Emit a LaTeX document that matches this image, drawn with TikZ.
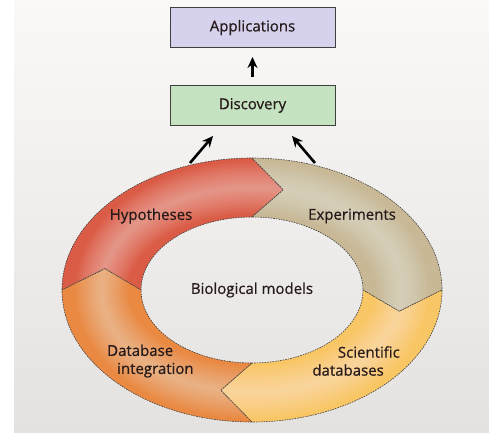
\documentclass[tikz,border=0pt]{standalone}
\usepackage{fontspec}
\setmainfont{Open Sans}
\usetikzlibrary{calc,positioning,arrows.meta}
\definecolor{bgtop}{RGB}{250,249,247}
\definecolor{bgbot}{RGB}{228,226,224}
\definecolor{appfill}{RGB}{214,209,237}
\definecolor{discfill}{RGB}{197,226,193}
\definecolor{hypred}{RGB}{218,92,70}
\definecolor{exptan}{RGB}{200,184,150}
\definecolor{scidbyellow}{RGB}{249,198,102}
\definecolor{dbintorange}{RGB}{233,137,66}
\definecolor{txtdark}{RGB}{38,26,26}
\tikzset{
    lbl/.style={font=\fontsize{15}{18}\selectfont\addfontfeature{FakeBold=0.6}, text=txtdark, inner sep=0pt},
    stagebox/.style={lbl, draw=black!75, line width=1pt, minimum width=165pt, minimum height=40pt},
    flow/.style={-{Stealth[length=11pt,width=10pt]}, line width=2.6pt},
    segline/.style={draw=black!75, line width=0.6pt, dash pattern=on 1.6pt off 1pt},
    ringpart/.style 2 args={
        insert path={
            ($(c)+(#1:190 and 132)$) arc[start angle=#1, end angle=#2, x radius=190, y radius=132]
            -- ($(c)+(#2-12:150.5 and 102.5)$) -- ($(c)+(#2:111 and 73)$)
            arc[start angle=#2, end angle=#1, x radius=111, y radius=73]
            -- ($(c)+(#1-12:150.5 and 102.5)$) -- cycle
        }
    }
}
% one arrow-shaped part of the ring: start angle, end angle, colour
\newcommand{\ringseg}[3]{
    \begin{scope}
        \clip[ringpart={#1}{#2}];
        \fill[#3] (c) ellipse [x radius=200, y radius=140];
        \foreach \w in {4,8,...,52}
            \draw[white, opacity=.035, line width=\w pt] (c) ellipse [x radius=150.5, y radius=102.5];
    \end{scope}
    \path[segline][ringpart={#1}{#2}];
}

\begin{document}
\begin{tikzpicture}[x=1pt, y=1pt]
    % background
    \fill[white] (0,0) rectangle (489,432);
    \shade[top color=bgtop, bottom color=bgbot] (14,0) rectangle (489,432);
    \useasboundingbox (0,0) rectangle (489,432);

    % the ring
    \coordinate (c) at (252,142);
    \ringseg{180}{90}{hypred}
    \ringseg{90}{0}{exptan}
    \ringseg{0}{-90}{scidbyellow}
    \ringseg{-90}{-180}{dbintorange}

    \node[lbl] (hyp) at (151,216) {Hypotheses};
    \node[lbl] (exp) at (352,216) {Experiments};
    \node[lbl, anchor=east, align=right] (scidb) at (400,71) {Scientific\\databases\hspace*{16pt}};
    \node[lbl, anchor=west, align=left] (dbint) at (107,71) {Database\\\hspace*{10pt}integration};
    \node[lbl] (bio) at (c) {Biological models};

    % boxes on top
    \node[stagebox, fill=appfill] (app) at (252.5,404.5) {Applications};
    \node[stagebox, fill=discfill, below=37pt of app] (disc) {Discovery};

    \coordinate (hypout) at (190,269);
    \coordinate (expout) at (315,269);
    \draw[flow, shorten <=8pt, shorten >=9pt] (disc) -- (app);
    \draw[flow] (hypout) -- ([xshift=-39.5pt, yshift=-10pt]disc.south);
    \draw[flow] (expout) -- ([xshift=39.5pt, yshift=-10pt]disc.south);
\end{tikzpicture}
\end{document}
